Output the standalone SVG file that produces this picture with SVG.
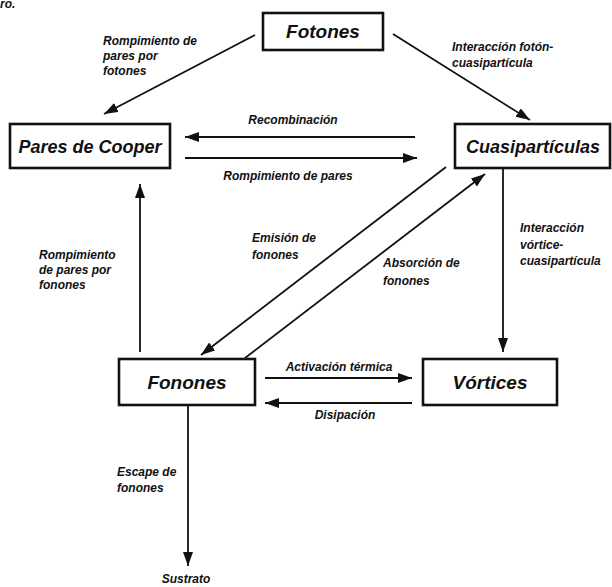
<svg xmlns="http://www.w3.org/2000/svg" width="612" height="587" viewBox="0 0 612 587">
<defs>
<style>
.box{fill:#fff;stroke:#111;stroke-width:2.6}
.nt{font-family:"Liberation Sans",Arial,sans-serif;font-weight:bold;font-style:italic;fill:#111;text-anchor:middle}
.lb{font-family:"Liberation Sans",Arial,sans-serif;font-weight:bold;font-style:italic;font-size:12px;fill:#111}
.ln{stroke:#111;stroke-width:1.8;fill:none;marker-end:url(#ah)}
</style>
<marker id="ah" markerUnits="userSpaceOnUse" markerWidth="15" markerHeight="11" refX="14" refY="5" orient="auto">
<path d="M0,0 L14,5 L0,10 Z" fill="#111"/>
</marker>
</defs>
<rect width="612" height="587" fill="#fff"/>
<text class="lb" x="0" y="8">ro.</text>

<g id="connectors">
<line class="ln" x1="255" y1="35" x2="104" y2="114"/>
<line class="ln" x1="393" y1="34" x2="530" y2="120"/>
<line class="ln" x1="415" y1="137" x2="185" y2="137"/>
<line class="ln" x1="185" y1="158" x2="417" y2="158"/>
<line class="ln" x1="140" y1="352" x2="140" y2="184"/>
<line class="ln" x1="446" y1="167" x2="201" y2="355"/>
<line class="ln" x1="245" y1="358" x2="485" y2="174"/>
<line class="ln" x1="503" y1="168" x2="503" y2="352"/>
<line class="ln" x1="265" y1="378" x2="412" y2="378"/>
<line class="ln" x1="412" y1="403" x2="265" y2="403"/>
<line class="ln" x1="188" y1="405" x2="188" y2="566"/>
</g>

<g id="labels">
<text class="lb" x="103" y="45">Rompimiento de</text>
<text class="lb" x="103" y="60">pares por</text>
<text class="lb" x="103" y="75">fotones</text>
<text class="lb" x="452" y="51">Interacción fotón-</text>
<text class="lb" x="452" y="67">cuasipartícula</text>
<text class="lb" x="293" y="124" text-anchor="middle">Recombinación</text>
<text class="lb" x="288" y="180" text-anchor="middle">Rompimiento de pares</text>
<text class="lb" x="39" y="259">Rompimiento</text>
<text class="lb" x="39" y="274">de pares por</text>
<text class="lb" x="39" y="289">fonones</text>
<text class="lb" x="252" y="242">Emisión de</text>
<text class="lb" x="252" y="259">fonones</text>
<text class="lb" x="383" y="267">Absorción de</text>
<text class="lb" x="383" y="285">fonones</text>
<text class="lb" x="520" y="232">Interacción</text>
<text class="lb" x="520" y="249">vórtice-</text>
<text class="lb" x="520" y="265">cuasipartícula</text>
<text class="lb" x="339" y="371" text-anchor="middle">Activación térmica</text>
<text class="lb" x="345" y="419" text-anchor="middle">Disipación</text>
<text class="lb" x="117" y="476">Escape de</text>
<text class="lb" x="117" y="492">fonones</text>
<text class="lb" x="186" y="583" text-anchor="middle">Sustrato</text>
</g>

<g id="fotones">
<rect class="box" x="263" y="13" width="120" height="37"/>
<text class="nt" x="323" y="38" font-size="19">Fotones</text>
</g>
<g id="pares">
<rect class="box" x="10" y="124" width="160" height="44"/>
<text class="nt" x="90" y="153" font-size="18">Pares de Cooper</text>
</g>
<g id="cuasi">
<rect class="box" x="455" y="124" width="155" height="44"/>
<text class="nt" x="533" y="153" font-size="18">Cuasipartículas</text>
</g>
<g id="fonones">
<rect class="box" x="119" y="359" width="136" height="46"/>
<text class="nt" x="187" y="389" font-size="19">Fonones</text>
</g>
<g id="vortices">
<rect class="box" x="423" y="359" width="134" height="46"/>
<text class="nt" x="490" y="389" font-size="19">Vórtices</text>
</g>
</svg>
